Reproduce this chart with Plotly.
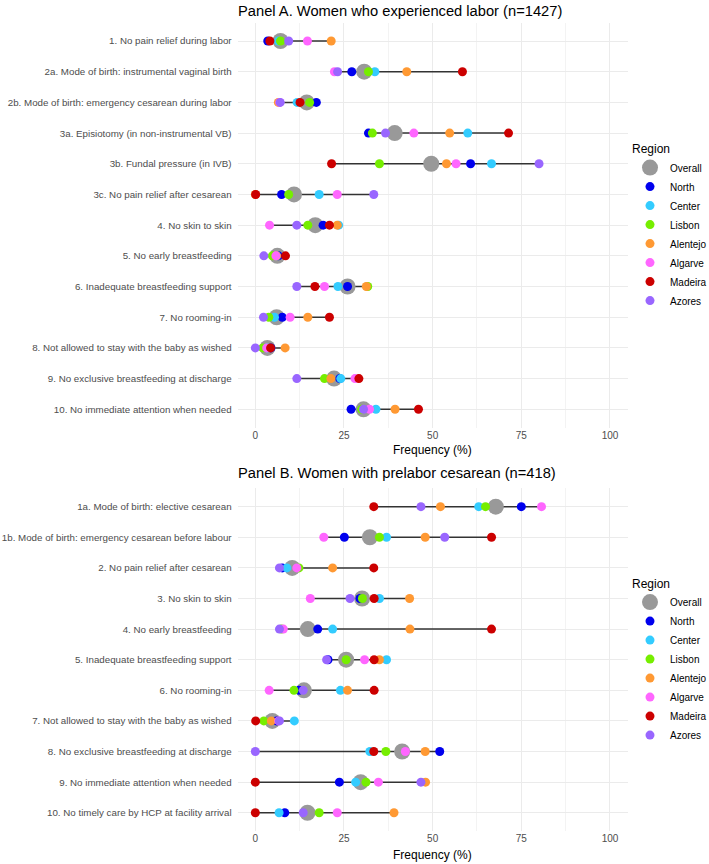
import plotly.graph_objects as go

# ---------------- Data: Panel A ----------------
labels_a = [
    "1. No pain relief during labor",
    "2a. Mode of birth: instrumental vaginal birth",
    "2b. Mode of birth: emergency cesarean during labor",
    "3a. Episiotomy (in non-instrumental VB)",
    "3b. Fundal pressure (in IVB)",
    "3c. No pain relief after cesarean",
    "4. No skin to skin",
    "5. No early breastfeeding",
    "6. Inadequate breastfeeding support",
    "7. No rooming-in",
    "8. Not allowed to stay with the baby as wished",
    "9. No exclusive breastfeeding at discharge",
    "10. No immediate attention when needed",
]
overall_a  = [7.1, 30.7, 14.5, 39.3, 49.6, 10.9, 16.9, 6.2, 26.0, 6.0, 3.4, 22.2, 30.5]
north_a    = [3.5, 27.2, 17.2, 31.9, 60.7, 7.4, 19.1, 6.5, 26.0, 7.6, 4.4, 23.8, 27.0]
center_a   = [6.5, 33.7, 11.8, 59.9, 66.6, 18.0, 23.5, 6.0, 23.3, 5.4, 3.3, 24.1, 34.0]
lisbon_a   = [7.1, 31.9, 15.3, 33.0, 35.0, 9.4, 14.8, 4.8, 31.7, 3.8, 2.1, 19.5, 30.0]
alentejo_a = [21.4, 42.7, 6.5, 54.8, 53.9, 0.0, 23.1, 6.0, 31.3, 14.8, 8.4, 21.3, 39.4]
algarve_a  = [14.7, 22.3, 6.9, 44.7, 56.6, 23.1, 4.0, 5.8, 19.5, 9.8, 3.2, 28.1, 32.2]
madeira_a  = [4.1, 58.4, 12.6, 71.4, 21.5, 0.1, 20.9, 8.5, 16.8, 20.9, 4.3, 29.2, 46.0]
azores_a   = [9.4, 23.2, 7.0, 36.7, 80.0, 33.4, 11.7, 2.4, 11.7, 2.3, 0.0, 11.7, 30.5]

# ---------------- Data: Panel B ----------------
labels_b = [
    "1a. Mode of birth: elective cesarean",
    "1b. Mode of birth: emergency cesarean before labour",
    "2. No pain relief after cesarean",
    "3. No skin to skin",
    "4. No early breastfeeding",
    "5. Inadequate breastfeeding support",
    "6. No rooming-in",
    "7. Not allowed to stay with the baby as wished",
    "8. No exclusive breastfeeding at discharge",
    "9. No immediate attention when needed",
    "10. No timely care by HCP at facility arrival",
]
overall_b  = [67.8, 32.3, 10.4, 30.1, 14.8, 25.6, 13.7, 4.8, 41.4, 29.7, 14.7]
north_b    = [75.0, 25.1, 7.6, 29.5, 17.6, 20.5, 12.3, 6.0, 52.0, 23.7, 8.3]
center_b   = [63.0, 37.0, 8.9, 35.0, 21.8, 37.0, 24.0, 11.0, 32.3, 28.3, 6.7]
lisbon_b   = [64.9, 35.0, 12.3, 30.2, 7.4, 25.6, 10.9, 2.4, 36.8, 31.2, 18.0]
alentejo_b = [52.2, 47.9, 21.8, 43.5, 43.6, 35.0, 26.0, 4.5, 47.9, 48.0, 39.1]
algarve_b  = [80.7, 19.3, 11.7, 15.5, 7.9, 30.8, 3.9, 6.6, 42.3, 34.7, 23.1]
madeira_b  = [33.4, 66.6, 33.4, 33.5, 66.6, 33.5, 33.5, 0.1, 33.4, 0.0, 0.0]
azores_b   = [46.7, 53.4, 6.8, 26.7, 6.8, 20.1, 13.5, 6.8, 0.0, 46.7, 13.5]

regions = ["North", "Center", "Lisbon", "Alentejo", "Algarve", "Madeira", "Azores"]
region_colors = ["#0000EE", "#33CCFF", "#76EE00", "#FF9933", "#FF66FF", "#CC0000", "#9966FF"]
overall_color = "#999999"

tick_vals = [0, 25, 50, 75, 100]
tick_text = ["0", "25", "50", "75", "100"]
minor_vals = [12.5, 37.5, 62.5, 87.5]

panel_a = {"labels": labels_a, "overall": overall_a,
           "regions": [north_a, center_a, lisbon_a, alentejo_a, algarve_a, madeira_a, azores_a]}
panel_b = {"labels": labels_b, "overall": overall_b,
           "regions": [north_b, center_b, lisbon_b, alentejo_b, algarve_b, madeira_b, azores_b]}

FONT = "Liberation Sans, Arial, sans-serif"
W, H = 709, 864


def px(x):
    return x / W


def py(y):
    return 1 - y / H


fig = go.Figure()


def add_panel(panel, xref, yref, legend):
    labels = panel["labels"]
    all_series = [panel["overall"]] + panel["regions"]
    sx, sy = [], []
    for i, lab in enumerate(labels):
        vals = [s[i] for s in all_series]
        sx += [min(vals), max(vals), None]
        sy += [lab, lab, None]
    fig.add_trace(go.Scatter(x=sx, y=sy, mode="lines", line=dict(color="#333333", width=1.5),
                             showlegend=False, hoverinfo="skip", xaxis=xref, yaxis=yref))
    fig.add_trace(go.Scatter(x=panel["overall"], y=labels, mode="markers", name="Overall",
                             marker=dict(color=overall_color, size=16, line=dict(width=0)),
                             xaxis=xref, yaxis=yref, legend=legend))
    for name, col, vals in zip(regions, region_colors, panel["regions"]):
        fig.add_trace(go.Scatter(x=vals, y=labels, mode="markers", name=name,
                                 marker=dict(color=col, size=9, line=dict(width=0)),
                                 xaxis=xref, yaxis=yref, legend=legend))


add_panel(panel_a, "x", "y", "legend")
add_panel(panel_b, "x2", "y2", "legend2")

xdom = [px(237.6), px(627.7)]


def xaxis_cfg():
    return dict(domain=xdom, range=[-5, 105], tickvals=tick_vals, ticktext=tick_text,
                showgrid=True, gridcolor="#EBEBEB", gridwidth=1, zeroline=False,
                showline=False, ticks="", tickfont=dict(family=FONT, size=10, color="#4D4D4D"),
                minor=dict(tickvals=minor_vals, showgrid=True, gridcolor="#F3F3F3", gridwidth=1, ticks=""),
                fixedrange=True, automargin=False)


def yaxis_cfg(labels, dom, anchor):
    n = len(labels)
    return dict(domain=dom, type="category", categoryorder="array", categoryarray=labels,
                range=[n - 1 + 0.6, -0.6], showgrid=True, gridcolor="#EBEBEB", gridwidth=1,
                zeroline=False, showline=False, ticks="", anchor=anchor,
                tickfont=dict(family=FONT, size=9.75, color="#4D4D4D"), ticklabelstandoff=5,
                fixedrange=True, automargin=False)


def legend_cfg(top_px):
    return dict(title=dict(text="Region", font=dict(size=12, family=FONT)),
                x=px(630), y=py(top_px), xanchor="left", yanchor="top",
                font=dict(size=10, family=FONT), itemsizing="trace", bgcolor="rgba(0,0,0,0)")


fig.update_layout(
    width=W, height=H,
    margin=dict(l=0, r=0, t=0, b=0, autoexpand=False),
    paper_bgcolor="white", plot_bgcolor="white",
    font=dict(family=FONT, color="black"),
    xaxis=dict(**xaxis_cfg(), anchor="y"),
    yaxis=yaxis_cfg(labels_a, [py(427.7), py(22.6)], "x"),
    xaxis2=dict(**xaxis_cfg(), anchor="y2"),
    yaxis2=yaxis_cfg(labels_b, [py(831.1), py(488.3)], "x2"),
    legend=legend_cfg(137.5),
    legend2=legend_cfg(572),
    annotations=[
        dict(text="Panel A. Women who experienced labor (n=1427)", x=px(400), y=py(11),
             xref="paper", yref="paper", showarrow=False, xanchor="center", yanchor="middle",
             font=dict(size=14.7, family=FONT, color="black")),
        dict(text="Panel B. Women with prelabor cesarean (n=418)", x=px(397), y=py(473),
             xref="paper", yref="paper", showarrow=False, xanchor="center", yanchor="middle",
             font=dict(size=14.7, family=FONT, color="black")),
        dict(text="Frequency (%)", x=(xdom[0] + xdom[1]) / 2, y=py(450),
             xref="paper", yref="paper", showarrow=False, xanchor="center", yanchor="middle",
             font=dict(size=12, family=FONT, color="black")),
        dict(text="Frequency (%)", x=(xdom[0] + xdom[1]) / 2, y=py(855),
             xref="paper", yref="paper", showarrow=False, xanchor="center", yanchor="middle",
             font=dict(size=12, family=FONT, color="black")),
    ],
)

# remove the default page margin so the figure sits at the window's top-left corner
fig.write_html("out.html", config={"displayModeBar": False},
               post_script="document.body.style.margin='0';document.body.style.overflow='hidden';")
